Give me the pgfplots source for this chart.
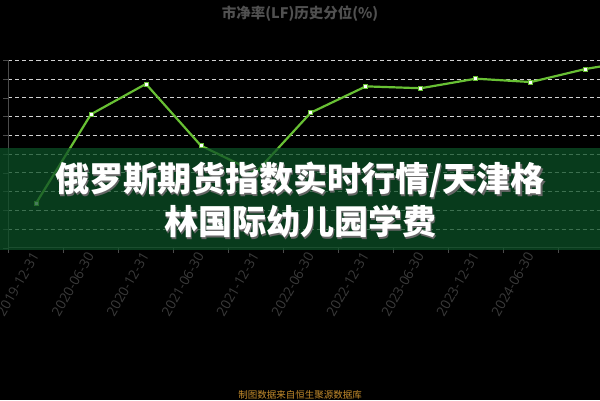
\documentclass[border=0pt]{standalone}
\usepackage{fontspec}
\usepackage{pgfplots}
\pgfplotsset{compat=1.18}
\setmainfont{Open Sans}
\newfontfamily\cjk{Noto Sans CJK SC}
\definecolor{bannergreen}{RGB}{12,80,38}
\definecolor{linegreen}{RGB}{104,192,52}
\definecolor{titlegray}{RGB}{80,80,80}
\definecolor{tickgray}{RGB}{58,58,58}
\definecolor{axisgray}{RGB}{75,75,75}
\definecolor{footgold}{RGB}{196,140,44}
\begin{document}
\begin{tikzpicture}[x=1pt,y=1pt]
\fill[black] (0,0) rectangle (600,400);
\begin{scope}
\clip (0,0) rectangle (600,400);
\begin{axis}[
  at={(8.5pt,152.2pt)}, anchor=south west,
  scale only axis, width=593.7pt, height=187.5pt,
  xmin=-0.5, xmax=10.3, ymin=0, ymax=100,
  enlargelimits=false,
  axis lines=left,
  axis line style={-, draw=axisgray, line width=0.8pt},
  xtick={-0.5,0.5,...,10.5},
  x tick label as interval=true,
  xticklabels={2019-12-31,2020-06-30,2020-12-31,2021-06-30,2021-12-31,2022-06-30,2022-12-31,2023-06-30,2023-12-31,2024-06-30,2024-12-31},
  xticklabel style={rotate=60, anchor=east, font=\fontsize{13.5}{14}\selectfont, text=tickgray, inner sep=1pt},
  ytick={0,10,...,100},
  yticklabels={},
  tick align=outside,
  major tick length=5pt,
  y tick style={draw=axisgray},
  x tick style={draw=axisgray},
  ymajorgrids=true,
  grid style={draw=white!82!black, dash pattern=on 4pt off 3pt, line width=0.8pt},
]
\addplot[color=linegreen, line width=2.2pt, mark=square*, mark size=2pt,
  mark options={fill=white, draw=linegreen, line width=0.8pt}]
  coordinates {
  (0,23.7) (1,71.2) (2,87.4) (3,54.5) (4,40.2) (5,72.1)
  (6,86.1) (7,85.1) (8,90.2) (9,88.4) (10,95.4) (11,100.2)
  };
\end{axis}
\fill[bannergreen, opacity=0.75] (0,150) rectangle (600,251.7);
\end{scope}
\node[text=titlegray, font=\cjk\bfseries\fontsize{14.5}{16}\selectfont] at (300,386) {市净率(LF)历史分位(\%)};
\node[text=black!60, font=\cjk\bfseries\fontsize{34}{38}\selectfont] at (301.5,218.5) {俄罗斯期货指数实时行情/天津格};
\node[text=white, font=\cjk\bfseries\fontsize{34}{38}\selectfont] at (300,220) {俄罗斯期货指数实时行情/天津格};
\node[text=black!60, font=\cjk\bfseries\fontsize{34}{38}\selectfont] at (301.5,176.8) {林国际幼儿园学费};
\node[text=white, font=\cjk\bfseries\fontsize{34}{38}\selectfont] at (300,178.3) {林国际幼儿园学费};
\node[text=footgold, font=\cjk\fontsize{9.5}{11}\selectfont] at (300,5.5) {制图数据来自恒生聚源数据库};
\pgfresetboundingbox
\path (0,0) rectangle (600,400);
\end{tikzpicture}
\end{document}
